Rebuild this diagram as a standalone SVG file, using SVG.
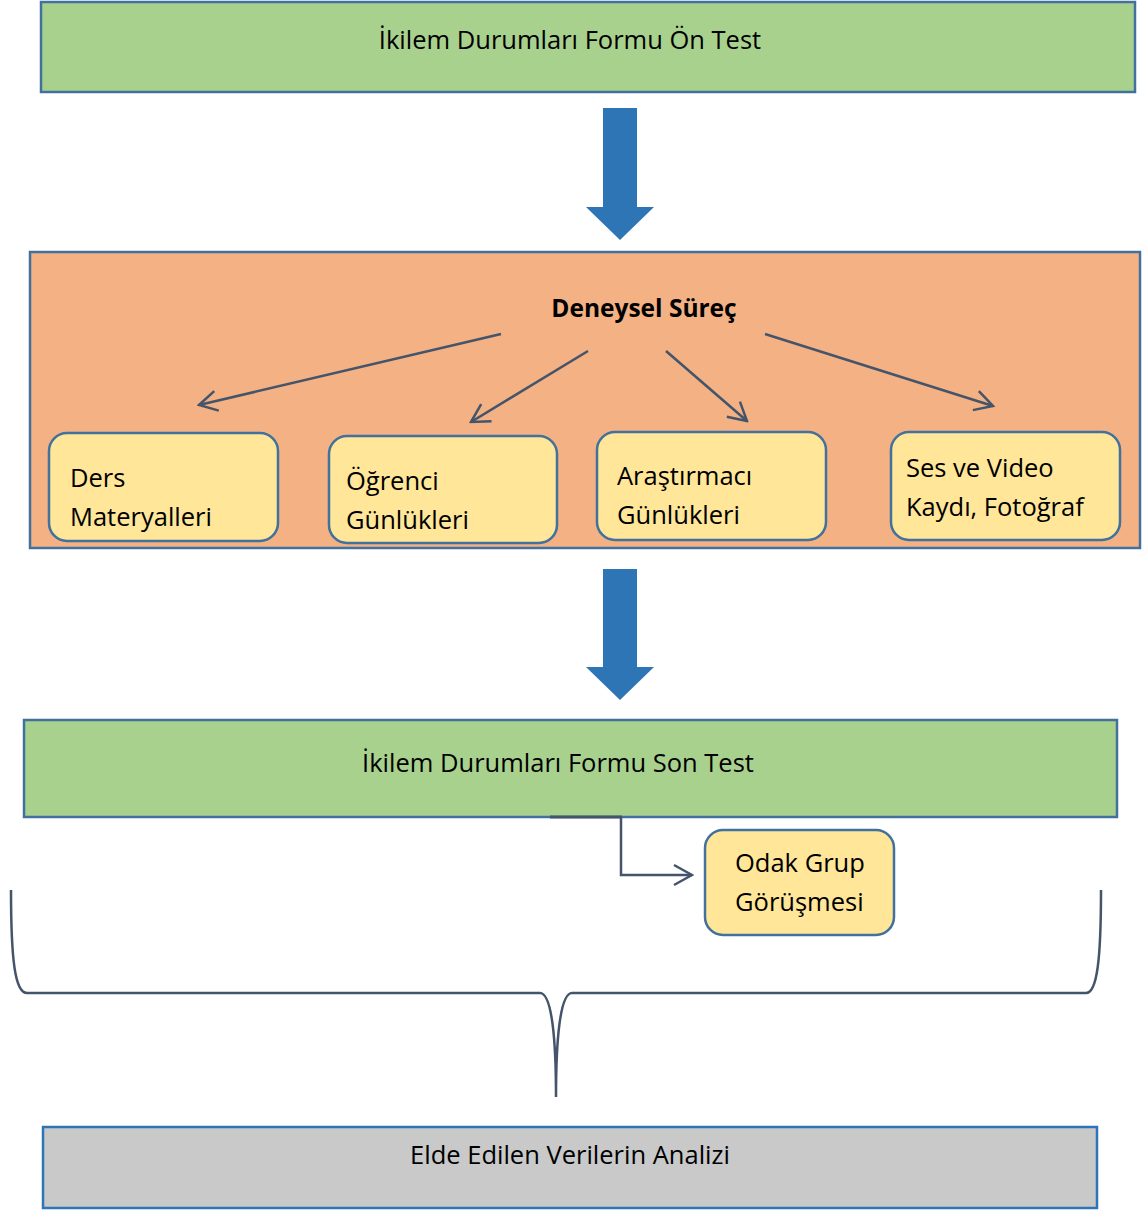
<svg xmlns="http://www.w3.org/2000/svg" width="1144" height="1211" viewBox="0 0 1144 1211">
<style>
text{font-family:"Open Sans","Liberation Sans",sans-serif;font-size:25.5px;fill:#000}
.bold{font-weight:bold;font-size:24.5px}
.mid{text-anchor:middle}
.green{fill:#A9D18E;stroke:#41719C;stroke-width:2.5}
.orange{fill:#F4B183;stroke:#41719C;stroke-width:2.5}
.yellow{fill:#FFE699;stroke:#41719C;stroke-width:2.5}
.gray{fill:#C9C9C9;stroke:#2E75B6;stroke-width:2.5}
.big{fill:#2E75B6}
.conn{fill:none;stroke:#44546A;stroke-width:2.5}
</style>
<defs>
<marker id="open2" markerWidth="24" markerHeight="24" viewBox="0 0 24 24" refX="22" refY="12" orient="auto" markerUnits="userSpaceOnUse">
<path d="M4,2 L22,12 L4,22" fill="none" stroke="#44546A" stroke-width="2.5"/>
</marker>
</defs>
<g id="on-test">
<rect class="green" x="41" y="2" width="1094" height="90"/>
<text class="mid" x="570" y="49">İkilem Durumları Formu Ön Test</text>
</g>
<g id="deneysel-surec">
<rect class="orange" x="30" y="252" width="1110" height="296"/>
<text class="bold mid" x="644" y="317">Deneysel Süreç</text>
</g>
<g id="ders-materyalleri">
<rect class="yellow" x="49" y="433" width="229" height="108" rx="18"/>
<text x="70" y="487">Ders</text>
<text x="70" y="526">Materyalleri</text>
</g>
<g id="ogrenci-gunlukleri">
<rect class="yellow" x="329" y="436" width="228" height="107" rx="18"/>
<text x="346" y="490">Öğrenci</text>
<text x="346" y="529">Günlükleri</text>
</g>
<g id="arastirmaci-gunlukleri">
<rect class="yellow" x="597" y="432" width="229" height="108" rx="18"/>
<text x="617" y="485">Araştırmacı</text>
<text x="617" y="524">Günlükleri</text>
</g>
<g id="ses-video">
<rect class="yellow" x="891" y="432" width="229" height="108" rx="18"/>
<text x="906" y="477">Ses ve Video</text>
<text x="906" y="516">Kaydı, Fotoğraf</text>
</g>
<g id="son-test">
<rect class="green" x="24" y="720" width="1093" height="97"/>
<text class="mid" x="558" y="772">İkilem Durumları Formu Son Test</text>
</g>
<g id="odak-grup">
<rect class="yellow" x="705" y="830" width="189" height="105" rx="18"/>
<text x="735" y="872">Odak Grup</text>
<text x="735" y="911">Görüşmesi</text>
</g>
<g id="analiz">
<rect class="gray" x="43" y="1127" width="1054" height="81"/>
<text class="mid" x="570" y="1164">Elde Edilen Verilerin Analizi</text>
</g>
<g id="connectors">
<path class="big" d="M603,108 H637 V207 H654 L620,240 L586,207 H603 Z"/>
<path class="big" d="M603,569 H637 V667 H654 L620,700 L586,667 H603 Z"/>
<line class="conn" x1="501" y1="334" x2="199" y2="405" marker-end="url(#open2)"/>
<line class="conn" x1="588" y1="351" x2="471" y2="422" marker-end="url(#open2)"/>
<line class="conn" x1="666" y1="351" x2="747" y2="421" marker-end="url(#open2)"/>
<line class="conn" x1="765" y1="334" x2="993" y2="406" marker-end="url(#open2)"/>
<line x1="550" y1="817" x2="622" y2="817" stroke="#44546A" stroke-width="3"/>
<path class="conn" d="M621,817 V875 H692" marker-end="url(#open2)"/>
<path class="conn" d="M11,890 C11,960 15,993 27,993 H540 C552,993 556,1040 556,1097 C556,1040 560,993 572,993 H1086 C1097,993 1101,960 1101,890"/>
</g>
</svg>
